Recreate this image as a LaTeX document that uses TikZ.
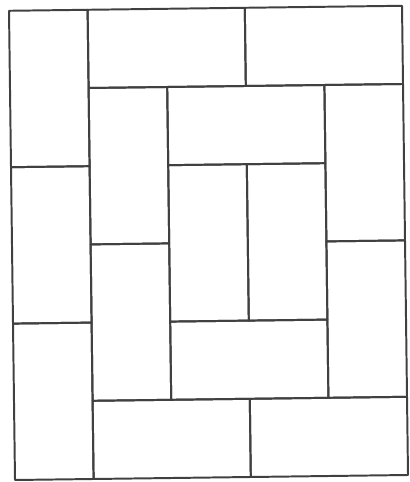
\documentclass[tikz,border=0pt]{standalone}
\usepackage{tikz}

\begin{document}
\begin{tikzpicture}[x={(1.965cm,0.025cm)}, y={(-0.025cm,1.955cm)}, line join=round, line cap=round]
	\tikzset{tile/.style={draw=black!75, line width=1.4pt}}
	\useasboundingbox (-0.375cm,-0.05cm) rectangle (9.85cm,12cm);
	% dominoes of the 5x6 board, lower left and upper right corners
	\foreach \a/\b/\c/\d in {0/4/1/6, 0/2/1/4, 0/0/1/2,
		1/5/3/6, 3/5/5/6,
		1/3/2/5, 1/1/2/3, 2/4/4/5,
		4/3/5/5, 4/1/5/3,
		2/2/3/4, 3/2/4/4, 2/1/4/2,
		1/0/3/1, 3/0/5/1}
	\draw[tile] (\a,\b) -- (\c,\b) -- (\c,\d) -- (\a,\d) -- cycle;
\end{tikzpicture}
\end{document}
